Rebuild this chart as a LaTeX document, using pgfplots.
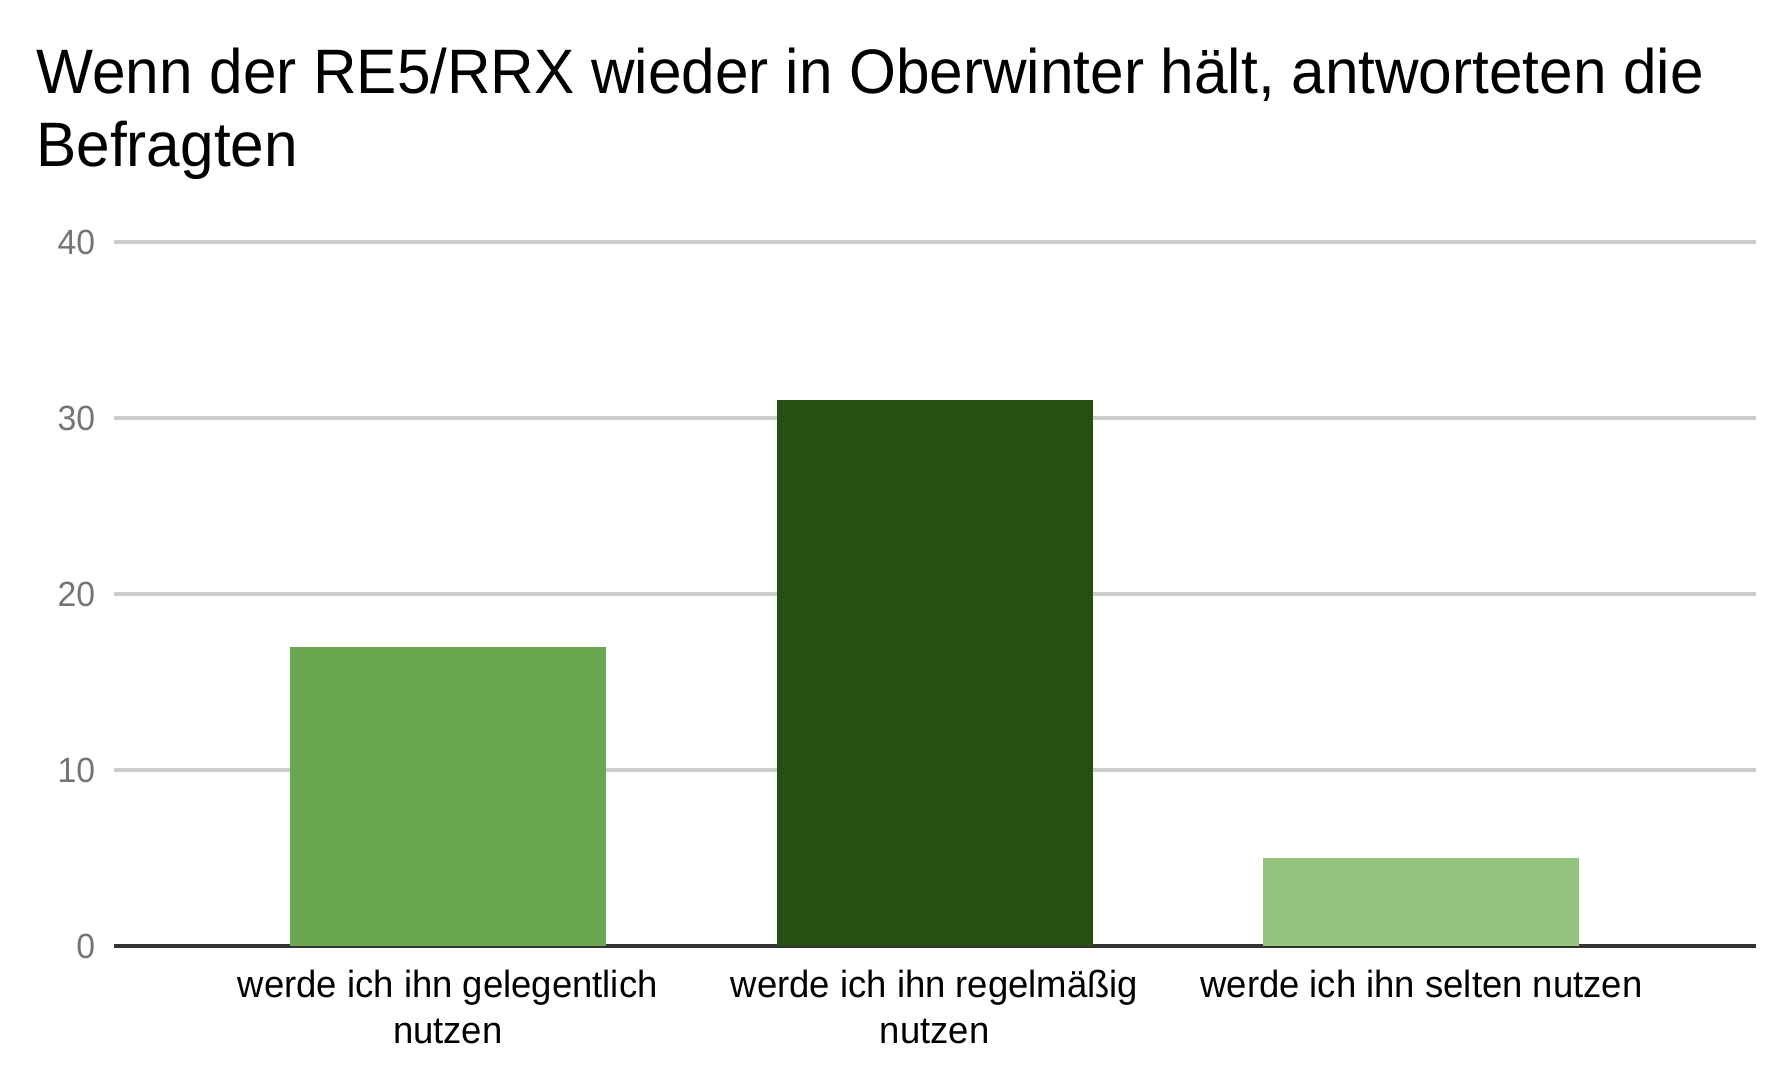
\documentclass[border=0pt]{standalone}
\usepackage{fontspec}
\setmainfont[FakeStretch=0.965]{Liberation Sans}
\newfontfamily\titlefont[FakeStretch=0.96]{Liberation Sans}
\usepackage{pgfplots}
\pgfplotsset{compat=1.18}
\definecolor{barA}{HTML}{6AA84F}
\definecolor{barB}{HTML}{274E13}
\definecolor{barC}{HTML}{93C47D}
\definecolor{gridc}{HTML}{CCCCCC}
\definecolor{axisc}{HTML}{333333}
\definecolor{tickc}{HTML}{757575}
\begin{document}
\begin{tikzpicture}
\useasboundingbox (0,0) rectangle (890.5pt,543pt);
\node[anchor=base west, inner sep=0pt, font=\titlefont\fontsize{31.4}{36}\selectfont] at (18pt,496pt) {Wenn der RE5/RRX wieder in Oberwinter hält, antworteten die};
\node[anchor=base west, inner sep=0pt, font=\titlefont\fontsize{31.4}{36}\selectfont] at (18pt,459.5pt) {Befragten};
\begin{axis}[
  at={(56.8pt,70pt)}, anchor=south west,
  scale only axis, width=821pt, height=352pt,
  xmin=-0.6865, xmax=2.6865, ymin=0, ymax=40,
  ybar, bar width=158pt, bar shift=0pt,
  axis x line*=bottom, axis y line*=left,
  x axis line style={-, draw=axisc, line width=2.25pt},
  y axis line style={draw=none},
  ytick={0,10,20,30,40},
  xtick={0,1,2},
  xticklabels={{werde ich ihn gelegentlich\\nutzen},{werde ich ihn regelmäßig\\nutzen},{werde ich ihn selten nutzen}},
  major tick length=0pt,
  ymajorgrids, major grid style={draw=gridc, line width=2pt},
  /pgf/number format/assume math mode=true,
  yticklabel style={font=\fontsize{17.5}{20}\selectfont, text=tickc, anchor=east, inner sep=0pt, xshift=-9pt},
  xticklabel style={font=\fontsize{18.9}{23}\selectfont, align=center, anchor=north, inner sep=0pt, yshift=-12pt},
]
\addplot[fill=barA, draw=none] coordinates {(0,17)};
\addplot[fill=barB, draw=none] coordinates {(1,31)};
\addplot[fill=barC, draw=none] coordinates {(2,5)};
\end{axis}
\end{tikzpicture}
\end{document}
